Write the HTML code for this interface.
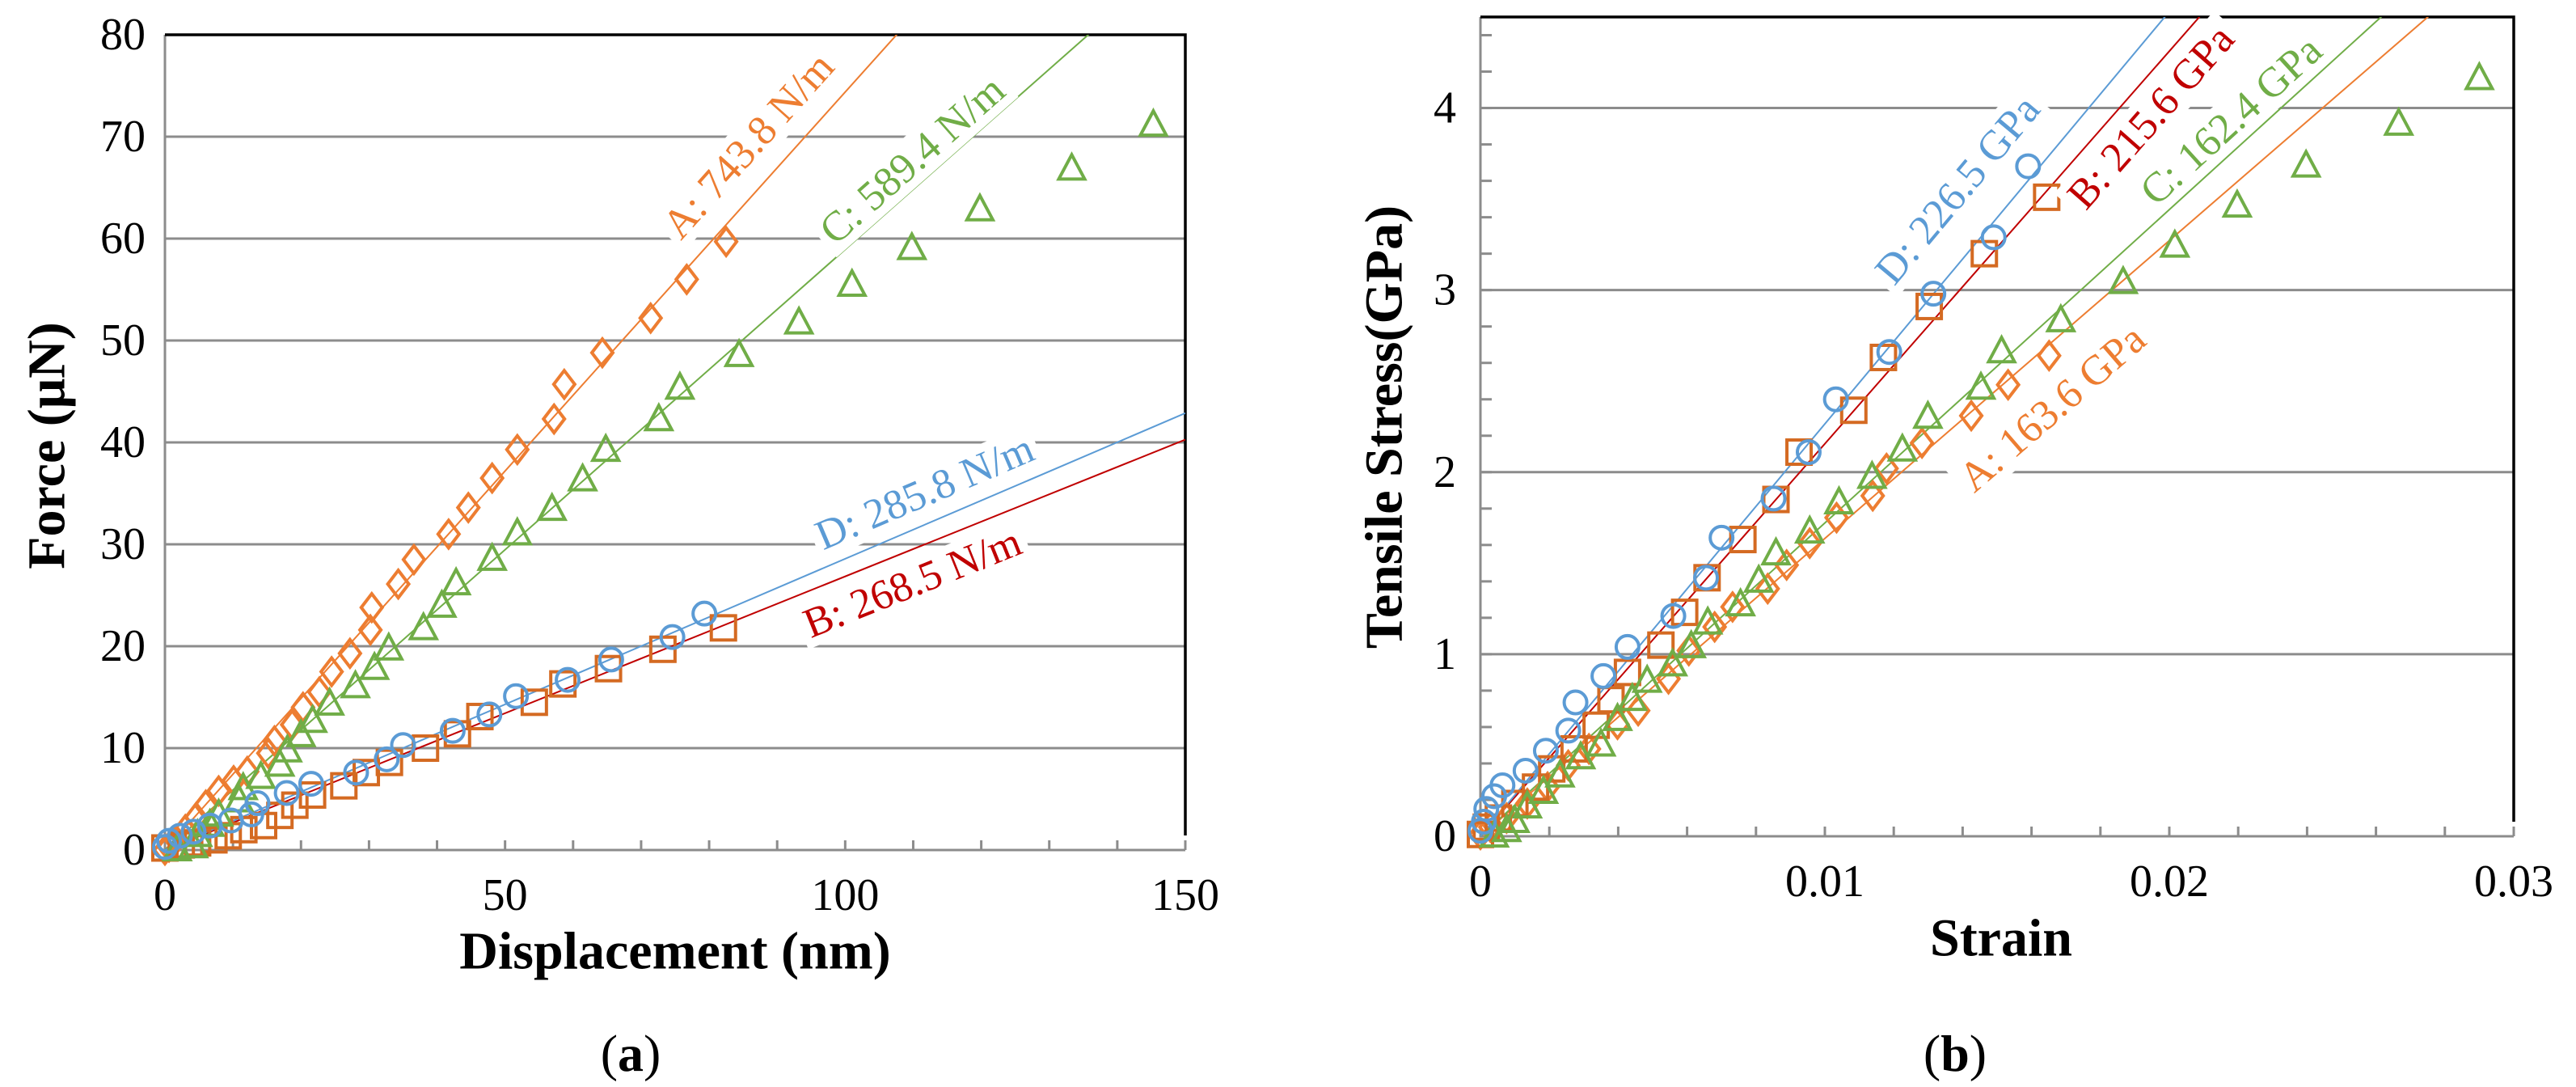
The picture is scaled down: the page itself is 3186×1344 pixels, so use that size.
<!DOCTYPE html>
<html><head><meta charset="utf-8"><style>
html,body{margin:0;padding:0;background:#fff;}
svg{display:block;font-family:"Liberation Serif",serif;}
text{font-family:"Liberation Serif",serif;}
</style></head>
<body>
<svg id="svg" width="3186" height="1344" viewBox="0 0 3186 1344" xmlns="http://www.w3.org/2000/svg">
<g id="pa"></g>
<g id="pb"></g>
<text x="58" y="551" transform="rotate(-90 58 551)" text-anchor="middle" dominant-baseline="central" font-size="66" font-weight="bold">Force (μN)</text>
<text x="835" y="1176" text-anchor="middle" dominant-baseline="central" font-size="66" font-weight="bold">Displacement (nm)</text>
<text x="780" y="1302" text-anchor="middle" dominant-baseline="central" font-size="64">(<tspan font-weight="bold">a</tspan>)</text>
<text x="1712" y="528" transform="rotate(-90 1712 528)" text-anchor="middle" dominant-baseline="central" font-size="66" font-weight="bold">Tensile Stress(GPa)</text>
<text x="2475" y="1160" text-anchor="middle" dominant-baseline="central" font-size="66" font-weight="bold">Strain</text>
<text x="2418" y="1302" text-anchor="middle" dominant-baseline="central" font-size="64">(<tspan font-weight="bold">b</tspan>)</text>
</svg>
<script>
// ---- Panel (a) data ----
const aX=[0,0.6,1.6,3,4.6,6,7.9,10.1,12.1,15.2,16.1,18.7,20.3,22.7,24.5,27.2,30.2,30.4,34.3,36.6,41.7,44.6,48.1,51.8,57.2,58.7,64.3,71.4,76.7,82.5];
const aY=[0,0.3,1,2,3.2,4.4,5.8,6.8,7.7,9.5,10.7,12.3,14,15.5,17.5,19.3,21.6,23.8,26.1,28.5,31,33.6,36.5,39.3,42.3,45.7,48.8,52.2,56,59.7];
const bX=[0,2.4,4.8,7.2,9.3,11.6,14.5,16.9,19.1,21.7,26.3,29.6,33,38.3,43,46.3,54.3,58.5,65.2,73.2,82.1];
const bY=[0.2,0.5,0.7,1,1.4,2,2.4,3.4,4.4,5.4,6.3,7.6,8.6,10,11.4,13.1,14.5,16.3,17.8,19.7,21.8];
const cX=[1.8,4.2,4.8,6.6,7.9,10.9,11.5,14.1,16.9,18,20,21.7,24.2,28,30.8,32.9,38,40.7,42.8,48.1,51.8,56.9,61.4,64.8,72.6,75.7,84.4,93.2,101,109.8,119.8,133.3,145.3];
const cY=[0,0.3,1.4,2.4,3.4,4.8,6,7.1,8.3,9.7,11.2,12.6,14.3,16,17.8,19.7,21.7,23.9,26.1,28.5,31,33.4,36.3,39.2,42.2,45.3,48.5,51.7,55.4,59,62.8,66.8,71.1];
const dX=[0,0.6,2.2,4.2,6.6,9.7,12.7,13.6,17.9,21.5,28.1,32.6,35,42.3,47.7,51.6,59.2,65.6,74.6,79.3];
const dY=[0.3,0.9,1.4,1.8,2.4,2.9,3.5,4.6,5.6,6.5,7.6,8.9,10.3,11.7,13.3,15.1,16.7,18.7,20.9,23.2];
const aSlopes=[0.7438,0.2685,0.5894,0.2858];
const aLabels=["A: 743.8 N/m","B: 268.5 N/m","C: 589.4 N/m","D: 285.8 N/m"];
const aLabelPos=[[85.8,69.1],[109.9,26.2],[109.9,67.7],[111.7,35.1]];
const aYTicks=[0,10,20,30,40,50,60,70,80];
const aXTicks=[0,50,100,150];
// ---- Panel (b) data ----
const bAX=[0,0.00029,0.00076,0.00136,0.00195,0.00255,0.00315,0.00398,0.00458,0.00546,0.00605,0.0068,0.00732,0.00834,0.00889,0.00956,0.01034,0.01139,0.01179,0.01282,0.01425,0.01532,0.01651];
const bAY=[0.01,0.05,0.10,0.18,0.27,0.39,0.48,0.615,0.69,0.865,1.02,1.15,1.26,1.36,1.49,1.61,1.75,1.87,2.02,2.16,2.31,2.48,2.64];
const bBX=[0,0.00017,0.00052,0.001,0.0016,0.00207,0.00272,0.00336,0.00379,0.00427,0.00524,0.00593,0.00658,0.00762,0.00858,0.00925,0.01084,0.0117,0.01303,0.01463,0.01644];
const bBY=[0.01,0.05,0.1,0.18,0.27,0.37,0.48,0.61,0.75,0.9,1.05,1.23,1.42,1.63,1.85,2.11,2.34,2.63,2.91,3.2,3.51];
const bCX=[0.0004,0.00076,0.001,0.00136,0.00183,0.00231,0.00291,0.0035,0.00398,0.00441,0.00484,0.00558,0.00612,0.0066,0.00755,0.00808,0.00858,0.00956,0.01041,0.01137,0.01225,0.01299,0.01453,0.01513,0.01685,0.01866,0.02016,0.02197,0.02397,0.02666,0.029];
const bCY=[0,0.03,0.08,0.16,0.24,0.33,0.43,0.5,0.64,0.75,0.85,0.94,1.04,1.17,1.27,1.4,1.55,1.67,1.83,1.97,2.12,2.3,2.46,2.66,2.83,3.04,3.24,3.46,3.68,3.91,4.16];
const bDX=[0,0.0001,0.00017,0.0004,0.00064,0.00131,0.0019,0.00255,0.00276,0.00357,0.00427,0.0056,0.00655,0.007,0.00851,0.00953,0.01032,0.01187,0.01315,0.0149,0.0159];
const bDY=[0.03,0.08,0.15,0.22,0.28,0.36,0.47,0.58,0.735,0.88,1.04,1.21,1.42,1.64,1.855,2.11,2.40,2.66,2.98,3.29,3.68];
const bSlopes=[163.6,215.6,172.1,226.5];
const bLabels=["A: 163.6 GPa","B: 215.6 GPa","C: 162.4 GPa","D: 226.5 GPa"];
const bLabelPos=[[0.01661,2.35],[0.01947,3.95],[0.0218,3.93],[0.01386,3.55]];
const bYTicks=[0,1,2,3,4];
const bXTicks=[0,0.01,0.02,0.03];

const NS="http://www.w3.org/2000/svg";
function mk(parent,tag,attrs){const e=document.createElementNS(NS,tag);for(const k in attrs)e.setAttribute(k,attrs[k]);parent.appendChild(e);return e;}
const COL={A:"#ED7D31",Bm:"#D46A22",Bl:"#C00000",C:"#70AD47",D:"#5B9BD5"};

function marker(g,kind,cx,cy,col){
  let e;
  if(kind==="diamond"){e=mk(g,"polygon",{points:`${cx},${cy-17} ${cx+13},${cy} ${cx},${cy+17} ${cx-13},${cy}`,fill:"none",stroke:col,"stroke-width":4});}
  else if(kind==="square"){e=mk(g,"rect",{x:cx-15,y:cy-15,width:30,height:30,fill:"none",stroke:col,"stroke-width":4});}
  else if(kind==="tri"){e=mk(g,"polygon",{points:`${cx},${cy-18} ${cx+16},${cy+12} ${cx-16},${cy+12}`,fill:"none",stroke:col,"stroke-width":4});}
  else {e=mk(g,"circle",{cx:cx,cy:cy,r:14,fill:"none",stroke:col,"stroke-width":4});}
  
  
}

function panel(g,o){
  const sx=v=>o.L+(v-o.x0)/(o.x1-o.x0)*(o.R-o.L);
  const sy=v=>o.B-(v-o.y0)/(o.y1-o.y0)*(o.B-o.T);
  o.grid.forEach(v=>{const l=mk(g,"line",{x1:o.L,x2:o.R,y1:sy(v),y2:sy(v),stroke:"#8c8c8c","stroke-width":3});
    
    });
  for(let v=o.x0;v<=o.x1+1e-9;v+=o.xminor){const x=sx(v);const t=mk(g,"line",{x1:x,x2:x,y1:o.B,y2:o.B-12,stroke:"#8c8c8c","stroke-width":3});
    
    }
  if(o.yminor){for(let v=o.y0;v<=o.y1+1e-9;v+=o.yminor){const y=sy(v);const t=mk(g,"line",{x1:o.L,x2:o.L+14,y1:y,y2:y,stroke:"#8c8c8c","stroke-width":3});
    
    }}
  const ax=mk(g,"path",{d:`M${o.L},${o.T} L${o.L},${o.B} L${o.R},${o.B}`,fill:"none",stroke:"#8c8c8c","stroke-width":3});
  
  
  const fr=mk(g,"path",{d:`M${o.L},${o.T} L${o.R},${o.T} L${o.R},${o.B-18}`,fill:"none",stroke:"#000","stroke-width":3.5});
  
  
  o.yt.forEach(v=>{const t=mk(g,"text",{x:o.L-o.ylabOff,y:sy(v),"text-anchor":"end","dominant-baseline":"central","font-size":56});t.textContent=String(v);
    
    });
  o.xt.forEach(v=>{const t=mk(g,"text",{x:sx(v),y:o.B+56,"text-anchor":"middle","dominant-baseline":"central","font-size":56});t.textContent=String(v);
    
    });
  const cid="clip"+o.id;
  const cp=mk(g,"clipPath",{id:cid});mk(cp,"rect",{x:o.L,y:o.T,width:o.R-o.L,height:o.B-o.T});
  const lineCols=[COL.A,COL.Bl,COL.C,COL.D];
  o.slopes.forEach((s,i)=>{const xe=o.x1;const l=mk(g,"line",{x1:sx(0),y1:sy(0),x2:sx(xe),y2:sy(s*xe),stroke:lineCols[i],"stroke-width":2,"clip-path":`url(#${cid})`});
    
    });
  const kinds=["diamond","square","tri","circle"],mcol=[COL.A,COL.Bm,COL.C,COL.D];
  o.series.forEach((s,i)=>{const sg=mk(g,"g",{});
    
    
    s[0].forEach((x,j)=>marker(sg,kinds[i],sx(x),sy(s[1][j]),mcol[i]));});
  o.labels.forEach((lab,i)=>{const p=o.lpos[i];const x=sx(p[0]),y=sy(p[1]);
    const ang=-Math.atan(o.slopes[i]*((o.B-o.T)/(o.y1-o.y0))/((o.R-o.L)/(o.x1-o.x0)))*180/Math.PI;
    const lg=mk(g,"g",{transform:`translate(${x},${y}) rotate(${ang})`});
    
    
    const w=lab.length*25;
    mk(lg,"rect",{x:-w/2,y:-28,width:w,height:56,fill:"#fff"});
    const t=mk(lg,"text",{x:0,y:0,"text-anchor":"middle","dominant-baseline":"central","font-size":52,fill:lineCols[i]});t.textContent=lab;});
}
panel(document.getElementById("pa"),{id:"a",L:204,R:1466,T:43,B:1051,x0:0,x1:150,y0:0,y1:80,grid:[10,20,30,40,50,60,70],xminor:10,yminor:0,yt:aYTicks,xt:aXTicks,ylabOff:24,
  slopes:aSlopes,series:[[aX,aY],[bX,bY],[cX,cY],[dX,dY]],labels:aLabels,lpos:aLabelPos});
panel(document.getElementById("pb"),{id:"b",L:1831,R:3109,T:21,B:1034,x0:0,x1:0.03,y0:0,y1:4.5,grid:[1,2,3,4],xminor:0.002,yminor:0.2,yt:bYTicks,xt:bXTicks,ylabOff:30,
  slopes:bSlopes,series:[[bAX,bAY],[bBX,bBY],[bCX,bCY],[bDX,bDY]],labels:bLabels,lpos:bLabelPos});
</script>
</body></html>
